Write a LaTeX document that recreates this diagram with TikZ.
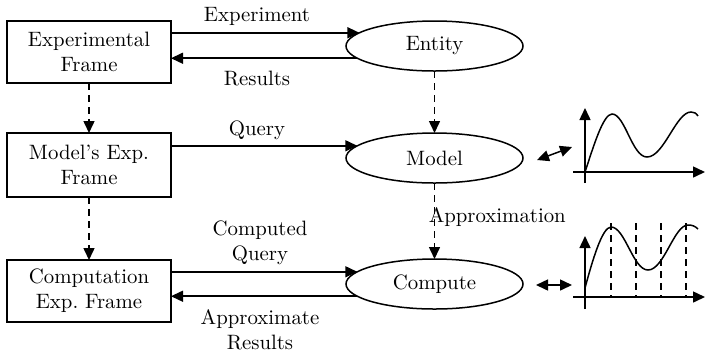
\documentclass[tikz,border=0pt]{standalone}
\usetikzlibrary{arrows.meta,shapes.geometric}
\begin{document}
\frenchspacing
\begin{tikzpicture}[x=0.5pt,y=-0.5pt,
  every node/.style={font=\fontsize{10.4}{12.5}\selectfont},
  line width=0.75pt,
  frame/.style={draw,rectangle,minimum width=82pt,inner sep=0pt,outer sep=0pt,align=center},
  oval/.style={draw,ellipse,minimum width=88.5pt,minimum height=25pt,inner sep=0pt,outer sep=0pt},
  arr/.style={-{Triangle[length=6pt,width=5.5pt]}},
  darr/.style={{Triangle[length=6pt,width=5.5pt]}-{Triangle[length=6pt,width=5.5pt]}},
  dsh/.style={dash pattern=on 3.5pt off 2.5pt},
  lbl/.style={align=center,inner sep=0pt}]
\useasboundingbox (0,0) rectangle (705,355);
% frames
\node[frame,minimum height=31pt] (ef) at (89,52) {Experimental\\Frame};
\node[frame,minimum height=32pt] (mf) at (89,165) {Model's Exp.\\Frame};
\node[frame,minimum height=31pt] (cf) at (89,291) {Computation\\Exp.\ Frame};
% ovals
\node[oval] (entity) at (434.5,46) {Entity};
\node[oval] (model) at (434.5,158) {Model};
\node[oval] (compute) at (434.5,284) {Compute};
% horizontal arrows
\draw[arr] (ef.east |- entity.170.2) -- (entity.170.2);
\draw[arr] (entity.189.8) -- (ef.east |- entity.189.8);
\draw[arr] (mf.east |- model.171.2) -- (model.171.2);
\draw[arr] (cf.east |- compute.171.2) -- (compute.171.2);
\draw[arr] (compute.189.8) -- (cf.east |- compute.189.8);
% dashed vertical arrows
\draw[arr,dsh] (ef.south) -- (mf.north);
\draw[arr,dsh] (mf.south) -- (cf.north);
\draw[arr,dsh] (entity.south) -- (model.north);
\draw[arr,dsh] (model.south) -- (compute.north);
% labels
\node[lbl] (lexp) at (257,16) {Experiment};
\node[lbl] (lres) at (257,79) {Results};
\node[lbl] (lqry) at (257,130) {Query};
\node[lbl] (lcq) at (260,243) {Computed\\Query};
\node[lbl] (lar) at (260,330) {Approximate\\Results};
\node[lbl,anchor=west] (lapx) at (428,217) {Approximation};
% double arrows to graphs
\coordinate (d1a) at (537,160);
\coordinate (d1b) at (572,147);
\coordinate (d2a) at (536,285);
\coordinate (d2b) at (572,285);
\draw[darr] (d1a) -- (d1b);
\draw[darr] (d2a) -- (d2b);
% graph 1
\draw[arr] (585,183) -- (585,108);
\draw[arr] (573,172) -- (705,172);
\draw (585,172) .. controls (593,148) and (603,114) .. (612,114)
  .. controls (625,114) and (632,157) .. (647,157)
  .. controls (664,157) and (676,112) .. (691,112)
  .. controls (694,112) and (696,113) .. (698,116);
% graph 2
\draw[arr] (585,309) -- (585,236);
\draw[arr] (573,297) -- (705,297);
\foreach \xx in {611,636,661,686} \draw[dsh] (\xx,223) -- (\xx,297);
\draw (585,288) .. controls (592,262) and (602,227) .. (611,227)
  .. controls (625,227) and (633,270) .. (648,270)
  .. controls (664,270) and (674,225) .. (688,225)
  .. controls (692,225) and (695,226) .. (698,229);
\end{tikzpicture}
\end{document}
